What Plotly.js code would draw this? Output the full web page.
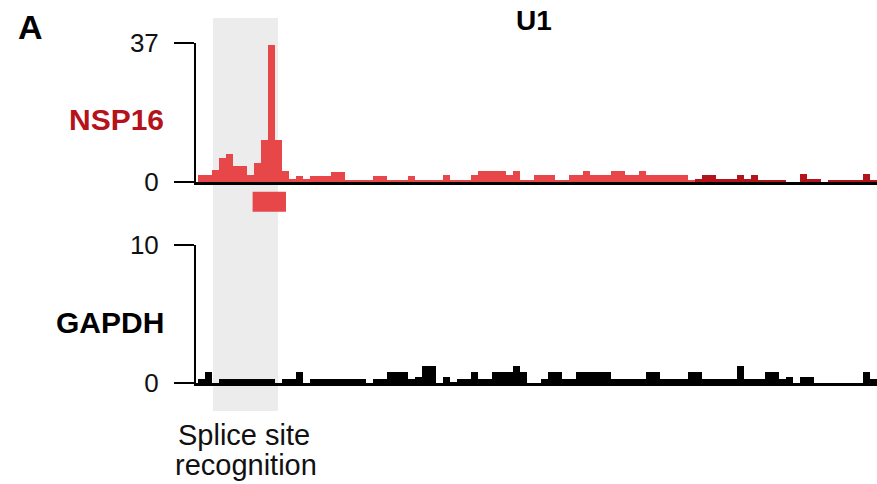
<!DOCTYPE html>
<html>
<head>
<meta charset="utf-8">
<script src="https://cdn.plot.ly/plotly-3.0.1.min.js"></script>
<style>html,body{margin:0;padding:0;background:#fff;}#chart{width:877px;height:484px;}</style>
</head>
<body>
<div id="chart"></div>
<script>
// ---- data (bin index along the U1 snRNA) ----
const nsp16 = [2,2,3.1,6.4,7.6,4.2,4.2,1.8,5.2,11.2,36.5,11.2,2.9,0.8,1.6,0.8,1.6,1.6,1.6,2.8,
  2.8,0.6,0.6,0.6,0.6,1.6,1.6,0.6,0.6,0.6,1.6,0.6,0.6,0.6,0.6,2,0.6,0.6,0.6,1.8,
  2.9,2.9,2.9,2.9,2,2.9,0.6,0.6,1.8,1.8,1.8,0.6,0.6,1.8,1.8,2.9,1.8,1.8,1.8,2.9,
  2.9,1.8,1.8,2.9,1.8,1.8,1.8,1.8,2,2,0.5,0.8,2,2,0.8,0.8,0.8,2,0.8,2,
  0.5,0.5,0.5,0.5,0,0,2.2,0.7,0.8,0,0.5,0.5,0.5,0.5,0.5,2.2,0.6];
const gapdh = [0.3,0.8,0,0.3,0.3,0.3,0.3,0.3,0.3,0.3,0.3,0,0.3,0.3,0.8,0,0.3,0.3,0.3,0.3,
  0.3,0.3,0.3,0.3,0,0.3,0.3,0.8,0.8,0.8,0.3,0.4,1.2,1.2,0,0.4,0.1,0.3,0.3,0.8,
  0.3,0.3,0.8,0.8,0.8,1.2,0.8,0,0,0.3,0.8,0.8,0.3,0.3,0.8,0.8,0.8,0.8,0.8,0.3,
  0.3,0.3,0.3,0.3,0.8,0.8,0.3,0.3,0.3,0.3,0.8,0.8,0.3,0.3,0.3,0.3,0.3,1.2,0.3,0.3,
  0.3,0.8,0.8,0.3,0.4,0,0.4,0.4,0,0,0,0,0,0,0,0.8,0.3];
const trackNames = ['NSP16', 'GAPDH'];
const yMax = [37, 10];
const spliceRegion = [1.64, 10.93];   // bins, shaded "Splice site recognition"
const motifRegion = [7.3, 12.07];     // bins, red box under NSP16 track
const panelLetter = 'A';
const geneTitle = 'U1';
const regionLabel = ['Splice site', 'recognition'];

// ---- styling ----
const LIGHT = '#e8474a', DARK = '#b3141b', DARK_FROM = 71;
const FONT = 'Arial, "Liberation Sans", sans-serif';
const bins = nsp16.map((_, i) => i);
const nspColors = bins.map(i => i >= DARK_FROM ? DARK : LIGHT);

const traces = [
  {type: 'bar', x: bins, y: nsp16, xaxis: 'x', yaxis: 'y', width: 1,
   marker: {color: nspColors, line: {width: 0}}, hoverinfo: 'skip'},
  {type: 'bar', x: bins, y: gapdh, xaxis: 'x2', yaxis: 'y2', width: 1,
   marker: {color: '#000', line: {width: 0}}, hoverinfo: 'skip'}
];

const xr = [-0.786, 96.5];
const xax = {range: xr, showline: true, linecolor: '#000', linewidth: 2.8, ticks: '',
  showticklabels: false, showgrid: false, zeroline: false, fixedrange: true};
const yax = (dom, max) => ({domain: dom, range: [0, max], tickvals: [0, max],
  ticks: 'outside', ticklen: 20, tickwidth: 2, tickcolor: '#000', showline: true,
  linecolor: '#000', linewidth: 2, showgrid: false, zeroline: false,
  tickfont: {family: FONT, size: 26, color: '#111'}, ticklabelstandoff: 10});

const px2paperX = p => (p - 196) / 681;
const px2paperY = p => (383 - p) / 340;

const layout = {
  width: 877, height: 484,
  margin: {l: 196, r: 0, t: 43, b: 101},
  paper_bgcolor: '#fff', plot_bgcolor: 'rgba(0,0,0,0)',
  showlegend: false, bargap: 0,
  font: {family: FONT, color: '#111'},
  xaxis: Object.assign({anchor: 'y'}, xax),
  xaxis2: Object.assign({anchor: 'y2', matches: 'x'}, xax),
  yaxis: Object.assign({anchor: 'x'}, yax([0.591, 1], yMax[0])),
  yaxis2: Object.assign({anchor: 'x2'}, yax([0, 0.406], yMax[1])),
  shapes: [
    {type: 'rect', xref: 'x', yref: 'paper', x0: spliceRegion[0], x1: spliceRegion[1],
     y0: px2paperY(411), y1: px2paperY(18), fillcolor: '#ececec', line: {width: 0}, layer: 'below'},
    {type: 'rect', xref: 'x', yref: 'paper', x0: motifRegion[0], x1: motifRegion[1],
     y0: px2paperY(211.7), y1: px2paperY(191.7), fillcolor: LIGHT, line: {width: 0}}
  ],
  annotations: [
    {text: '<b>' + panelLetter + '</b>', xref: 'paper', yref: 'paper', x: px2paperX(16), y: px2paperY(27),
     xanchor: 'left', yanchor: 'middle', showarrow: false, font: {size: 34, color: '#000'}},
    {text: '<b>' + geneTitle + '</b>', xref: 'paper', yref: 'paper', x: px2paperX(533.5), y: px2paperY(20.5),
     xanchor: 'center', yanchor: 'middle', showarrow: false, font: {size: 28, color: '#000'}},
    {text: '<b>' + trackNames[0] + '</b>', xref: 'paper', yref: 'paper', x: px2paperX(166), y: px2paperY(119),
     xanchor: 'right', yanchor: 'middle', showarrow: false, font: {size: 30, color: '#b5121b'}},
    {text: '<b>' + trackNames[1] + '</b>', xref: 'paper', yref: 'paper', x: px2paperX(166), y: px2paperY(322),
     xanchor: 'right', yanchor: 'middle', showarrow: false, font: {size: 30, color: '#000'}},
    {text: regionLabel[0], xref: 'paper', yref: 'paper', x: px2paperX(244), y: px2paperY(435),
     xanchor: 'center', yanchor: 'middle', showarrow: false, font: {size: 29, color: '#111'}},
    {text: regionLabel[1], xref: 'paper', yref: 'paper', x: px2paperX(246), y: px2paperY(465),
     xanchor: 'center', yanchor: 'middle', showarrow: false, font: {size: 29, color: '#111'}}
  ]
};

Plotly.newPlot('chart', traces, layout, {displayModeBar: false, staticPlot: true});
</script>
</body>
</html>
